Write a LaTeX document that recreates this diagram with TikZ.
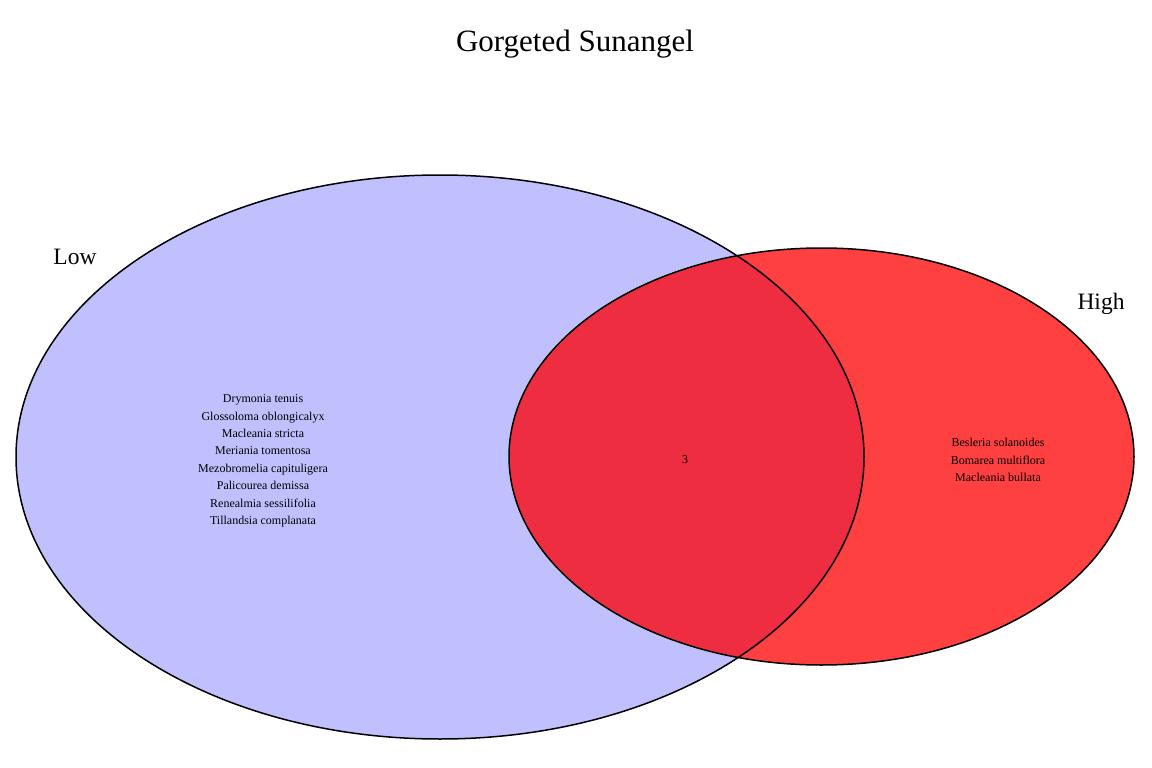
\documentclass[tikz,border=0pt]{standalone}
\usepackage{fontspec}
\setmainfont{Liberation Serif}
\definecolor{lowfill}{RGB}{192,192,255}
\definecolor{highfill}{RGB}{255,64,64}
\definecolor{bothfill}{RGB}{238,46,64}
\tikzset{
  setline/.style={draw=black, line width=1.5pt},
  species/.style={align=center, font=\fontsize{12}{17.4}\selectfont, inner sep=0pt},
  setlabel/.style={font=\fontsize{23.5}{28}\selectfont, inner sep=0pt},
}
\begin{document}
\begin{tikzpicture}[x=1pt,y=-1pt]
\useasboundingbox (0,0) rectangle (1152,768);
\fill[white] (0,0) rectangle (1152,768);
% fills
\fill[lowfill] (440,457) ellipse [x radius=424, y radius=282];
\fill[highfill] (821.5,456.5) ellipse [x radius=312.5, y radius=208.5];
\begin{scope}
  \clip (440,457) ellipse [x radius=424, y radius=282];
  \fill[bothfill] (821.5,456.5) ellipse [x radius=312.5, y radius=208.5];
\end{scope}
% outlines
\draw[setline] (440,457) ellipse [x radius=424, y radius=282];
\draw[setline] (821.5,456.5) ellipse [x radius=312.5, y radius=208.5];
% texts
\node[font=\fontsize{31}{36}\selectfont, inner sep=0pt] (title) at (575,44) {Gorgeted Sunangel};
\node[setlabel] (low) at (75,257) {Low};
\node[setlabel] (high) at (1101,304) {High};
\node[species] (lowonly) at (263,461) {Drymonia tenuis\\Glossoloma oblongicalyx\\Macleania stricta\\Meriania tomentosa\\Mezobromelia capituligera\\Palicourea demissa\\Renealmia sessilifolia\\Tillandsia complanata};
\node[species] (both) at (685,460) {3};
\node[species] (highonly) at (998,460) {Besleria solanoides\\Bomarea multiflora\\Macleania bullata};
\end{tikzpicture}
\end{document}
